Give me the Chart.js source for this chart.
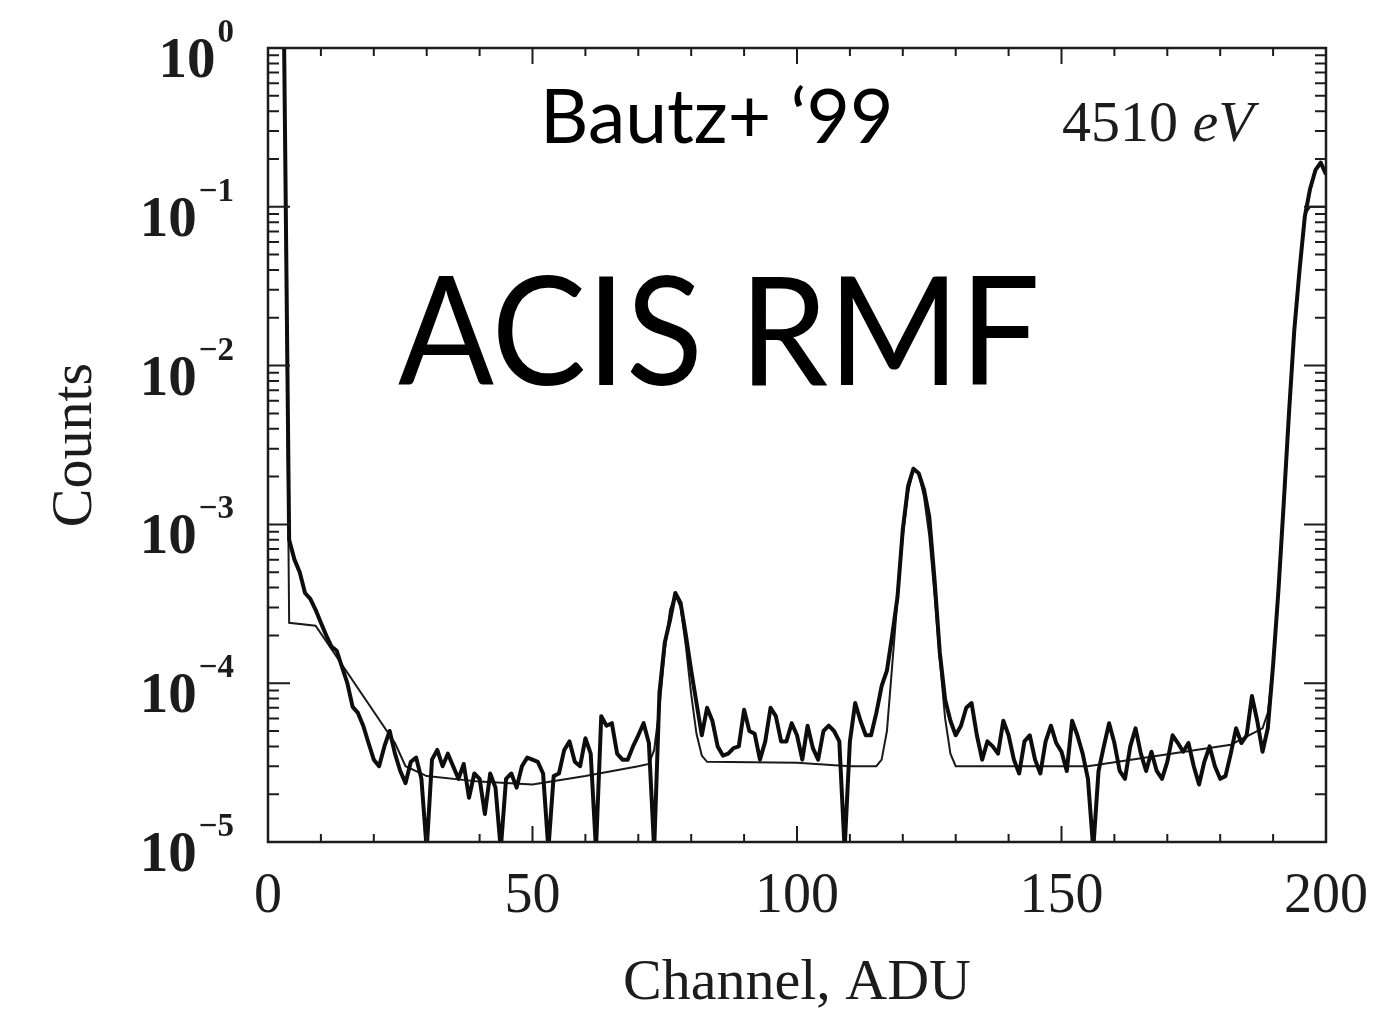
<!DOCTYPE html>
<html>
<head>
<meta charset="utf-8">
<script src="https://cdn.jsdelivr.net/npm/chart.js@4.4.1/dist/chart.umd.min.js"></script>
<style>
  html, body { margin: 0; padding: 0; background: #fff; }
  #wrap { width: 1394px; height: 1019px; position: relative; }
</style>
</head>
<body>
<div id="wrap"><canvas id="myChart"></canvas></div>
<script>
// measured spectrum, one value per channel starting at channel 3
const dataStart = 3;
const dataCounts = [
  1.5, 8.0e-4, 6.0e-4, 5.0e-4, 3.7e-4, 3.4e-4, 2.9e-4, 2.4e-4, 2.0e-4, 1.7e-4,      // 3-12
  1.6e-4, 1.26e-4, 1.0e-4, 7.1e-5, 6.5e-5, 5.4e-5, 4.2e-5, 3.3e-5, 3.0e-5, 4.0e-5,  // 13-22
  5.0e-5, 3.6e-5, 2.8e-5, 2.35e-5, 3.2e-5, 3.4e-5, 2.5e-5, 9e-6, 3.3e-5, 3.8e-5,    // 23-32
  3.0e-5, 3.6e-5, 3.0e-5, 2.5e-5, 3.1e-5, 1.9e-5, 2.7e-5, 2.5e-5, 1.5e-5, 2.7e-5,   // 33-42
  2.2e-5, 9e-6, 2.5e-5, 2.7e-5, 2.2e-5, 3.0e-5, 3.4e-5, 3.3e-5, 3.2e-5, 2.7e-5,     // 43-52
  9e-6, 2.6e-5, 2.7e-5, 3.8e-5, 4.3e-5, 3.2e-5, 3.0e-5, 4.5e-5, 3.6e-5, 9e-6,       // 53-62
  6.2e-5, 5.4e-5, 5.6e-5, 3.6e-5, 3.3e-5, 3.3e-5, 4.0e-5, 4.7e-5, 5.6e-5, 4.2e-5,   // 63-72
  9e-6, 8.7e-5, 1.8e-4, 2.5e-4, 3.7e-4, 3.2e-4, 2.0e-4, 1.2e-4, 7.5e-5, 4.7e-5,     // 73-82
  7.0e-5, 5.8e-5, 4.0e-5, 3.5e-5, 3.6e-5, 3.9e-5, 4.0e-5, 6.8e-5, 5.0e-5, 4.8e-5,   // 83-92
  3.3e-5, 4.3e-5, 7.0e-5, 6.2e-5, 4.3e-5, 4.3e-5, 5.6e-5, 4.7e-5, 3.3e-5, 5.4e-5,   // 93-102
  3.9e-5, 3.3e-5, 5.0e-5, 5.4e-5, 5.0e-5, 4.3e-5, 9e-6, 4.3e-5, 7.5e-5, 5.8e-5,     // 103-112
  4.7e-5, 4.7e-5, 6.5e-5, 9.6e-5, 1.2e-4, 2.0e-4, 3.5e-4, 9.3e-4, 1.74e-3, 2.24e-3, // 113-122
  2.1e-3, 1.66e-3, 1.12e-3, 4.5e-4, 1.55e-4, 7.9e-5, 5.8e-5, 4.7e-5, 5.4e-5, 7.0e-5, // 123-132
  7.5e-5, 4.7e-5, 3.3e-5, 4.3e-5, 4.0e-5, 3.6e-5, 5.8e-5, 4.7e-5, 3.3e-5, 2.7e-5,  // 133-142
  4.3e-5, 4.7e-5, 3.3e-5, 2.7e-5, 4.3e-5, 5.4e-5, 4.2e-5, 3.7e-5, 2.8e-5, 5.8e-5,  // 143-152
  4.7e-5, 3.6e-5, 2.5e-5, 9e-6, 2.8e-5, 4.0e-5, 5.6e-5, 4.2e-5, 2.8e-5, 2.5e-5,     // 153-162
  4.0e-5, 5.2e-5, 3.6e-5, 2.8e-5, 3.7e-5, 2.8e-5, 2.5e-5, 3.2e-5, 4.7e-5, 4.2e-5,  // 163-172
  3.7e-5, 4.2e-5, 3.0e-5, 2.3e-5, 3.2e-5, 4.0e-5, 3.0e-5, 2.5e-5, 2.6e-5, 3.6e-5,  // 173-182
  5.2e-5, 4.2e-5, 4.7e-5, 8.3e-5, 5.8e-5, 3.7e-5, 5.2e-5, 1.3e-4, 3.8e-4, 1.34e-3, // 183-192
  5.0e-3, 1.66e-2, 4.0e-2, 8.7e-2, 0.13, 0.17, 0.19, 0.16                          // 193-200
];

// response model curve
const modelChannels = [3, 4, 9, 24, 26, 30, 40, 50, 60, 70, 72, 73, 74, 75, 76, 77, 78, 79, 80, 81, 82, 83,
  100, 110, 115, 116, 117, 118, 119, 120, 121, 122, 123, 124, 125, 126, 127, 128, 129, 130,
  155, 182, 188, 189, 190, 191, 192, 193, 194, 195, 196, 197, 200];
const modelCounts = [1.5, 2.4e-4, 2.3e-4, 4.2e-5, 3.0e-5, 2.6e-5, 2.4e-5, 2.3e-5, 2.6e-5, 3.0e-5, 3.1e-5, 3.8e-5,
  7e-5, 1.6e-4, 2.9e-4, 3.6e-4, 3.0e-4, 1.7e-4, 8.5e-5, 4.8e-5, 3.5e-5, 3.2e-5,
  3.15e-5, 3.0e-5, 3.0e-5, 3.3e-5, 5e-5, 1.3e-4, 3.4e-4, 8.3e-4, 1.6e-3, 2.2e-3, 2.1e-3, 1.5e-3, 8.5e-4, 3.6e-4,
  1.4e-4, 6e-5, 3.6e-5, 3.0e-5,
  3.0e-5, 4.1e-5, 5.2e-5, 6.5e-5, 1.3e-4, 3.6e-4, 1.3e-3, 4.8e-3, 1.6e-2, 4.0e-2, 0.09, 0.1, 0.1];

const xTickValues = [0, 50, 100, 150, 200];
const yExponents = [0, -1, -2, -3, -4, -5];

const ink = '#1c1c1c';

function toPoints(xs, ys){
    let stock = [];
    ys.forEach((v, i) => stock.push({x: xs[i], y: v}));
    return stock;
}

const dataChannels = dataCounts.map((v, i) => dataStart + i);

// frame with inward ticks on all four sides, y labels as 10^n, and the text notes
const frameTicks = {
    id: 'frameTicks',
    afterDatasetsDraw(chart) {
        const {ctx, chartArea: a, scales: {x, y}} = chart;
        ctx.save();
        ctx.strokeStyle = ink;
        ctx.lineWidth = 2;
        ctx.beginPath();
        for (let v = 0; v <= 200; v += 10) {
            const px = x.getPixelForValue(v);
            const len = xTickValues.includes(v) ? 16 : 8;
            ctx.moveTo(px, a.bottom); ctx.lineTo(px, a.bottom - len);
            ctx.moveTo(px, a.top); ctx.lineTo(px, a.top + len);
        }
        for (let d = -5; d <= 0; d++) {
            for (let k = 1; k <= 9; k++) {
                const v = k * Math.pow(10, d);
                if (v > 1) break;
                const py = y.getPixelForValue(v);
                const len = k === 1 ? 22 : 11;
                ctx.moveTo(a.left, py); ctx.lineTo(a.left + len, py);
                ctx.moveTo(a.right, py); ctx.lineTo(a.right - len, py);
            }
        }
        ctx.stroke();
        ctx.lineWidth = 2.5;
        ctx.strokeRect(a.left, a.top, a.right - a.left, a.bottom - a.top);

        // y tick labels
        ctx.fillStyle = ink;
        const rightEdge = 234;
        yExponents.forEach(e => {
            const py = y.getPixelForValue(Math.pow(10, e));
            const sup = e === 0 ? '0' : '\u2212' + (-e);
            ctx.font = 'bold 33px "Liberation Serif"';
            const supW = ctx.measureText(sup).width;
            ctx.textAlign = 'left';
            ctx.textBaseline = 'alphabetic';
            ctx.fillText(sup, rightEdge - supW, py - 6);
            ctx.font = 'bold 57px "Liberation Serif"';
            ctx.textAlign = 'right';
            ctx.fillText('10', rightEdge - supW - 2, py + 29);
        });

        // notes
        ctx.textAlign = 'left';
        ctx.textBaseline = 'alphabetic';
        ctx.fillStyle = '#000';
        ctx.font = '75px Lato';
        ctx.fillText('Bautz+ \u201899', 540, 143);
        ctx.font = '151px Lato';
        const big = 'ACIS RMF';
        const squeeze = 642 / ctx.measureText(big).width;
        ctx.save();
        ctx.translate(398, 385);
        ctx.scale(squeeze, 1);
        ctx.fillText(big, 0, 0);
        ctx.restore();
        ctx.fillStyle = ink;
        ctx.font = '58px "Liberation Serif"';
        ctx.fillText('4510 ', 1062, 141);
        const w = ctx.measureText('4510 ').width;
        ctx.font = 'italic 58px "Liberation Serif"';
        ctx.fillText('eV', 1062 + w, 141);
        ctx.restore();
    }
};

const canvas = document.getElementById('myChart');
new Chart(canvas, {
    type: 'line',
    data: {
        datasets: [
            {
                label: 'Data',
                data: toPoints(dataChannels, dataCounts),
                borderColor: '#0d0d0d',
                borderWidth: 4,
                borderJoinStyle: 'round',
                pointRadius: 0,
                tension: 0,
                clip: 0
            },
            {
                label: 'Model',
                data: toPoints(modelChannels, modelCounts),
                borderColor: '#1a1a1a',
                borderWidth: 2,
                pointRadius: 0,
                tension: 0,
                clip: 0
            }
        ]
    },
    options: {
        responsive: true,
        maintainAspectRatio: false,
        animation: false,
        layout: { padding: { top: 48, right: 68, left: 0, bottom: 0 } },
        plugins: { legend: { display: false }, tooltip: { enabled: false } },
        scales: {
            x: {
                type: 'linear',
                min: 0,
                max: 200,
                grid: { display: false, drawTicks: false },
                border: { display: false },
                ticks: {
                    stepSize: 50,
                    padding: 22,
                    color: ink,
                    font: { family: 'Liberation Serif', size: 56 }
                },
                title: {
                    display: true,
                    text: 'Channel, ADU',
                    color: ink,
                    font: { family: 'Liberation Serif', size: 58 },
                    padding: { top: 0, bottom: 0 }
                },
                afterFit(s) { s.height = 177; }
            },
            y: {
                type: 'logarithmic',
                min: 1e-5,
                max: 1,
                grid: { display: false, drawTicks: false },
                border: { display: false },
                ticks: { display: false },
                title: {
                    display: true,
                    text: 'Counts',
                    color: ink,
                    font: { family: 'Liberation Serif', size: 58 },
                    padding: { top: 41, bottom: 0 }
                },
                afterFit(s) { s.width = 268; }
            }
        }
    },
    plugins: [frameTicks]
});
</script>
</body>
</html>
